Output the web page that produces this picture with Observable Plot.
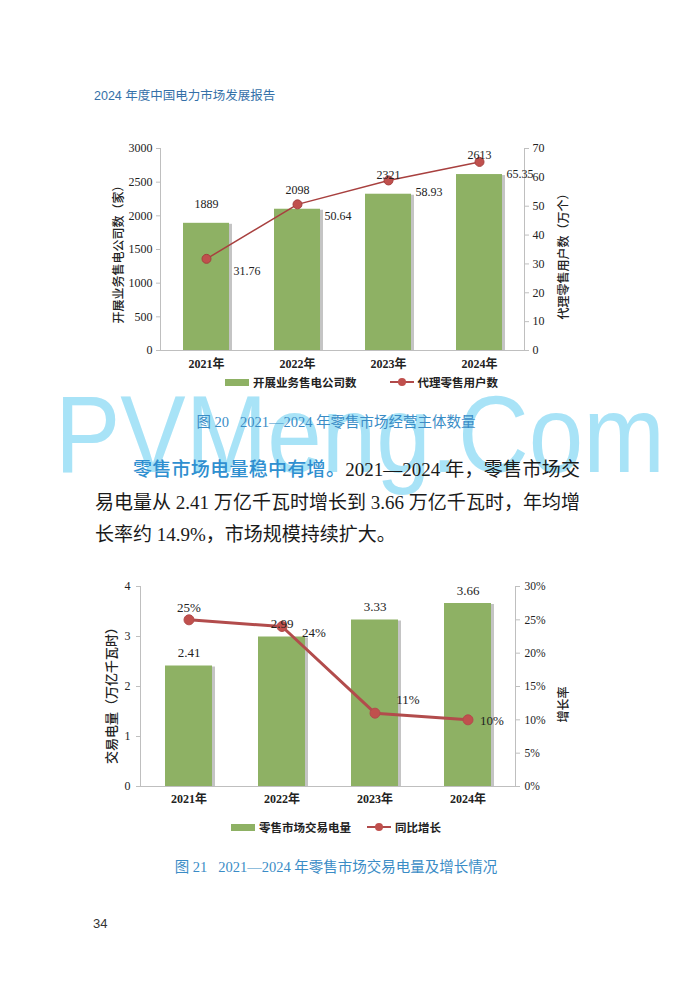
<!DOCTYPE html>
<html>
<head>
<meta charset="utf-8">
<script src="https://cdn.jsdelivr.net/npm/d3@7"></script>
<script src="https://cdn.jsdelivr.net/npm/@observablehq/plot@0.6"></script>
<style>
  html, body { margin: 0; padding: 0; background: #fff; }
  #page { position: relative; width: 699px; height: 983px; overflow: hidden; background: #fff; }
  .abs { position: absolute; }
  .header { left: 94px; top: 85px; font-family: "Liberation Sans", "Noto Sans CJK SC", sans-serif; font-size: 12.5px; color: #3470a8; white-space: nowrap; }
  .caption { left: 0; width: 672px; text-align: center; font-family: "Liberation Serif", "Noto Sans CJK SC", serif; font-size: 14.5px; color: #3a8cc6; white-space: nowrap; }
  .legend { font-family: "Noto Sans CJK SC", sans-serif; font-size: 11.5px; font-weight: bold; color: #222; white-space: nowrap; display: flex; align-items: center; }
  .sw-bar { display: inline-block; width: 24px; height: 7px; background: #8eb164; margin-right: 4px; }
  .sw-line { display: inline-block; position: relative; width: 24px; height: 10px; margin-right: 4px; }
  .sw-line::before { content: ""; position: absolute; left: 0; right: 0; top: 4px; height: 2px; background: #b04a4a; }
  .sw-line::after { content: ""; position: absolute; left: 8px; top: 1px; width: 8px; height: 8px; border-radius: 50%; background: #c0504d; }
  .ylab { font-family: "Noto Sans CJK SC", sans-serif; font-size: 12px; font-weight: 500; color: #222; white-space: nowrap; transform-origin: center center; }
  .para { left: 95px; width: 485px; font-family: "Liberation Serif", "Noto Sans CJK SC", serif; font-size: 19px; line-height: 32.5px; color: #1a1a1a; }
  .para div { text-align: justify; text-align-last: justify; white-space: nowrap; }
  .para div.last { text-align-last: left; }
  .hl { color: #2f8fd0; font-family: "Noto Sans CJK SC", sans-serif; font-weight: 500; }
  .pageno { left: 93px; top: 916px; font-family: "Liberation Sans", sans-serif; font-size: 13px; color: #333; }
  #wm { left: 0; top: 0; z-index: 0; }
  .fg { z-index: 1; }
</style>
</head>
<body>
<div id="page">
  <svg id="wm" class="abs" width="699" height="983">
    <text x="55" y="472" font-family="Liberation Sans, Arial, sans-serif" font-size="110" fill="#a8e3f7" textLength="610" lengthAdjust="spacingAndGlyphs">PVMeng.Com</text>
  </svg>
  <div class="abs header fg">2024 年度中国电力市场发展报告</div>
  <div id="chart1" class="abs fg" style="left:0;top:130px;"></div>
  <div id="chart2" class="abs fg" style="left:0;top:570px;"></div>
  <div id="ylab1" class="abs ylab fg"></div>
  <div id="ylab1r" class="abs ylab fg"></div>
  <div id="ylab2" class="abs ylab fg"></div>
  <div id="ylab2r" class="abs ylab fg"></div>
  <div id="legend1" class="abs legend fg" style="left:225px;top:374px;"></div>
  <div id="legend2" class="abs legend fg" style="left:231px;top:819px;"></div>
  <div class="abs caption fg" style="top:410px;">图 20&nbsp;&nbsp;&nbsp;2021—2024 年零售市场经营主体数量</div>
  <div class="abs para fg" style="top:452px;">
    <div style="text-indent:38px;"><span class="hl">零售市场电量稳中有增。</span>2021—2024 年，零售市场交</div>
    <div>易电量从 2.41 万亿千瓦时增长到 3.66 万亿千瓦时，年均增</div>
    <div class="last">长率约 14.9%，市场规模持续扩大。</div>
  </div>
  <div class="abs caption fg" style="top:855px;">图 21&nbsp;&nbsp;&nbsp;2021—2024 年零售市场交易电量及增长情况</div>
  <div class="abs pageno fg">34</div>
</div>
<script>
// ---------- data ----------
const years = ["2021年", "2022年", "2023年", "2024年"];
// chart 1
const companies = [1889, 2098, 2321, 2613];        // 开展业务售电公司数（家）
const users = [31.76, 50.64, 58.93, 65.35];        // 代理零售用户数（万个）
const leftTicks1 = [0, 500, 1000, 1500, 2000, 2500, 3000];
const rightTicks1 = [0, 10, 20, 30, 40, 50, 60, 70];
// chart 2
const volume = [2.41, 2.99, 3.33, 3.66];           // 零售市场交易电量（万亿千瓦时）
const growth = [25, 24, 11, 10];                   // 同比增长（%）
const leftTicks2 = [0, 1, 2, 3, 4];
const rightTicks2 = [0, 5, 10, 15, 20, 25, 30];

const legend1 = ["开展业务售电公司数", "代理零售用户数"];
const legend2 = ["零售市场交易电量", "同比增长"];
const ylabels = ["开展业务售电公司数（家）", "代理零售用户数（万个）", "交易电量（万亿千瓦时）", "增长率"];

// ---------- styles ----------
const GREEN = "#8eb164";
const LINE = "#a8403f";
const DOT = "#c0504d";
const AXIS = "#bfbfbf";
const FONT = "'Liberation Serif','Noto Sans CJK SC',serif";

// ---------- chart 1 ----------
const t1 = years.map((y, i) => ({year: y, companies: companies[i], users: users[i]}));
const k1 = 3000 / 70;
const chart1 = Plot.plot({
  width: 699, height: 250,
  marginLeft: 160, marginRight: 175, marginTop: 18, marginBottom: 30,
  style: {fontFamily: FONT, fontSize: "12px", color: "#222", background: "transparent"},
  x: {domain: years, paddingInner: 0.5, paddingOuter: 0.25},
  y: {domain: [0, 3000]},
  marks: [
    Plot.barY(t1, {x: "year", y: "companies", fill: "#555", fillOpacity: 0.35, dx: 3, dy: 1}),
    Plot.barY(t1, {x: "year", y: "companies", fill: GREEN}),
    Plot.ruleY([0], {stroke: AXIS}),
    Plot.frame({anchor: "left", stroke: AXIS}),
    Plot.frame({anchor: "right", stroke: AXIS}),
    Plot.axisY({ticks: leftTicks1, tickFormat: d => String(d), tickSize: 4, tickPadding: 4, stroke: AXIS, label: null, fontSize: 12}),
    Plot.axisY({anchor: "right", ticks: rightTicks1.map(v => v * k1), tickFormat: v => String(Math.round(v / k1)), tickSize: 4, tickPadding: 4, stroke: AXIS, label: null, fontSize: 12}),
    Plot.axisX({tickSize: 0, tickPadding: 9, label: null, fontWeight: "bold", fontSize: 12}),
    Plot.line(t1, {x: "year", y: d => d.users * k1, stroke: LINE, strokeWidth: 1.5}),
    Plot.dot(t1, {x: "year", y: d => d.users * k1, r: 4.5, fill: DOT, stroke: "#a5403e", strokeWidth: 1}),
    Plot.text(t1, {x: "year", y: "companies", text: d => String(d.companies), dy: -19, fontSize: 12, fill: "#222"}),
    Plot.text(t1, {x: "year", y: d => d.users * k1, text: d => d.users.toFixed(2), dx: 27, dy: 12, textAnchor: "start", fontSize: 12, fill: "#222"})
  ]
});
document.getElementById("chart1").appendChild(chart1);

// ---------- chart 2 ----------
const t2 = years.map((y, i) => ({year: y, volume: volume[i], growth: growth[i]}));
const k2 = 4 / 30;
const gLabel = (rows, dx, dy) => Plot.text(rows, {x: "year", y: d => d.growth * k2, text: d => d.growth + "%", dx, dy, fontSize: 13, fill: "#222"});
const chart2 = Plot.plot({
  width: 699, height: 245,
  marginLeft: 140, marginRight: 184, marginTop: 16, marginBottom: 29,
  style: {fontFamily: FONT, fontSize: "12.5px", color: "#222", background: "transparent"},
  x: {domain: years, paddingInner: 0.5, paddingOuter: 0.25},
  y: {domain: [0, 4]},
  marks: [
    Plot.barY(t2, {x: "year", y: "volume", fill: "#555", fillOpacity: 0.35, dx: 3, dy: 1}),
    Plot.barY(t2, {x: "year", y: "volume", fill: GREEN}),
    Plot.ruleY([0], {stroke: AXIS}),
    Plot.frame({anchor: "left", stroke: AXIS}),
    Plot.frame({anchor: "right", stroke: AXIS}),
    Plot.axisY({ticks: leftTicks2, tickFormat: d => String(d), tickSize: 4, tickPadding: 6, stroke: AXIS, label: null, fontSize: 12}),
    Plot.axisY({anchor: "right", ticks: rightTicks2.map(v => v * k2), tickFormat: v => Math.round(v / k2) + "%", tickSize: 4, tickPadding: 5, stroke: AXIS, label: null, fontSize: 11.5}),
    Plot.axisX({tickSize: 0, tickPadding: 8, label: null, fontWeight: "bold", fontSize: 12}),
    Plot.line(t2, {x: "year", y: d => d.growth * k2, stroke: "#b24c4c", strokeWidth: 3}),
    Plot.dot(t2, {x: "year", y: d => d.growth * k2, r: 5, fill: DOT, stroke: "#b24c4c", strokeWidth: 1}),
    Plot.text(t2, {x: "year", y: "volume", text: d => d.volume.toFixed(2), dy: -13, fontSize: 13, fill: "#222"}),
    gLabel(t2.slice(0, 1), 0, -12),
    gLabel(t2.slice(1, 2), 32, 6),
    gLabel(t2.slice(2, 3), 33, -13),
    gLabel(t2.slice(3, 4), 24, 1)
  ]
});
document.getElementById("chart2").appendChild(chart2);

// ---------- legends ----------
document.getElementById("legend1").innerHTML =
  `<span class="sw-bar"></span><span>${legend1[0]}</span><span style="display:inline-block;width:33px"></span><span class="sw-line"></span><span>${legend1[1]}</span>`;
document.getElementById("legend2").innerHTML =
  `<span class="sw-bar"></span><span>${legend2[0]}</span><span style="display:inline-block;width:16px"></span><span class="sw-line"></span><span>${legend2[1]}</span>`;

// ---------- rotated axis titles ----------
function placeRot(id, text, cx, cy, size) {
  const el = document.getElementById(id);
  el.textContent = text;
  if (size) el.style.fontSize = size + "px";
  const w = el.offsetWidth, h = el.offsetHeight;
  el.style.left = (cx - w / 2) + "px";
  el.style.top = (cy - h / 2) + "px";
  el.style.transform = "rotate(-90deg)";
}
placeRot("ylab1", ylabels[0], 117, 251, 12);
placeRot("ylab1r", ylabels[1], 562, 253, 12);
placeRot("ylab2", ylabels[2], 110, 692, 13);
placeRot("ylab2r", ylabels[3], 562, 704, 12);
</script>
</body>
</html>
